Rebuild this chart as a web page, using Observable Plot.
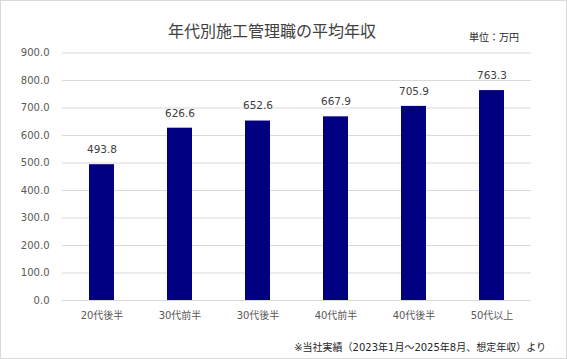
<!DOCTYPE html>
<html><head><meta charset="utf-8">
<script src="https://cdn.jsdelivr.net/npm/d3@7"></script>
<script src="https://cdn.jsdelivr.net/npm/@observablehq/plot@0.6"></script>
<style>
html,body{margin:0;padding:0;background:#fff;}
#wrap{position:relative;width:567px;height:359px;box-sizing:border-box;border:1px solid #d9d9d9;background:#fff;font-family:"DejaVu Sans","Noto Sans CJK JP",sans-serif;}
#wrap svg{position:absolute;left:0;top:0;}
.title{position:absolute;left:0;width:542px;top:17px;text-align:center;font-family:"Noto Sans CJK JP",sans-serif;font-size:16px;color:#404040;}
.unit{position:absolute;left:468px;top:28px;font-family:"Noto Sans CJK JP",sans-serif;font-size:10px;color:#262626;}
.cap{position:absolute;right:20px;top:338px;font-family:"DejaVu Sans","Noto Sans CJK JP",sans-serif;font-size:10px;color:#262626;white-space:nowrap;}
</style></head>
<body>
<div id="wrap">
<div class="title">年代別施工管理職の平均年収</div>
<div class="unit">単位：万円</div>
<div class="cap">※当社実績（2023年1月～2025年8月、想定年収）より</div>
</div>
<script>
const categories = ["20代後半","30代前半","30代後半","40代前半","40代後半","50代以上"];
const values = [493.8, 626.6, 652.6, 667.9, 705.9, 763.3];
const yTicks = [0,100,200,300,400,500,600,700,800,900];
const data = categories.map((c,i)=>({cat:c, val:values[i]}));
const chart = Plot.plot({
  width: 565, height: 357,
  marginLeft: 61, marginRight: 35, marginTop: 51.5, marginBottom: 58,
  style: {fontFamily: '"DejaVu Sans","Noto Sans CJK JP",sans-serif', fontSize: "10px", color: "#595959", background: "transparent"},
  x: {domain: categories, paddingInner: 0.68, paddingOuter: 0.34, label: null},
  y: {domain: [0, 900], label: null},
  marks: [
    Plot.gridY(yTicks, {stroke: "#d9d9d9", strokeOpacity: 1}),
    Plot.axisY({ticks: yTicks, tickFormat: d => d.toFixed(1), tickSize: 0, tickPadding: 13, label: null, fill: "#595959"}),
    Plot.axisX({tickSize: 0, tickPadding: 11, label: null, fill: "#595959"}),
    Plot.barY(data, {x: "cat", y: "val", fill: "#000080"}),
    Plot.text(data, {x: "cat", y: "val", text: d => d.val.toFixed(1), dy: -15, fill: "#404040", fontSize: 10.5})
  ]
});
document.getElementById("wrap").prepend(chart);
</script>
</body></html>
